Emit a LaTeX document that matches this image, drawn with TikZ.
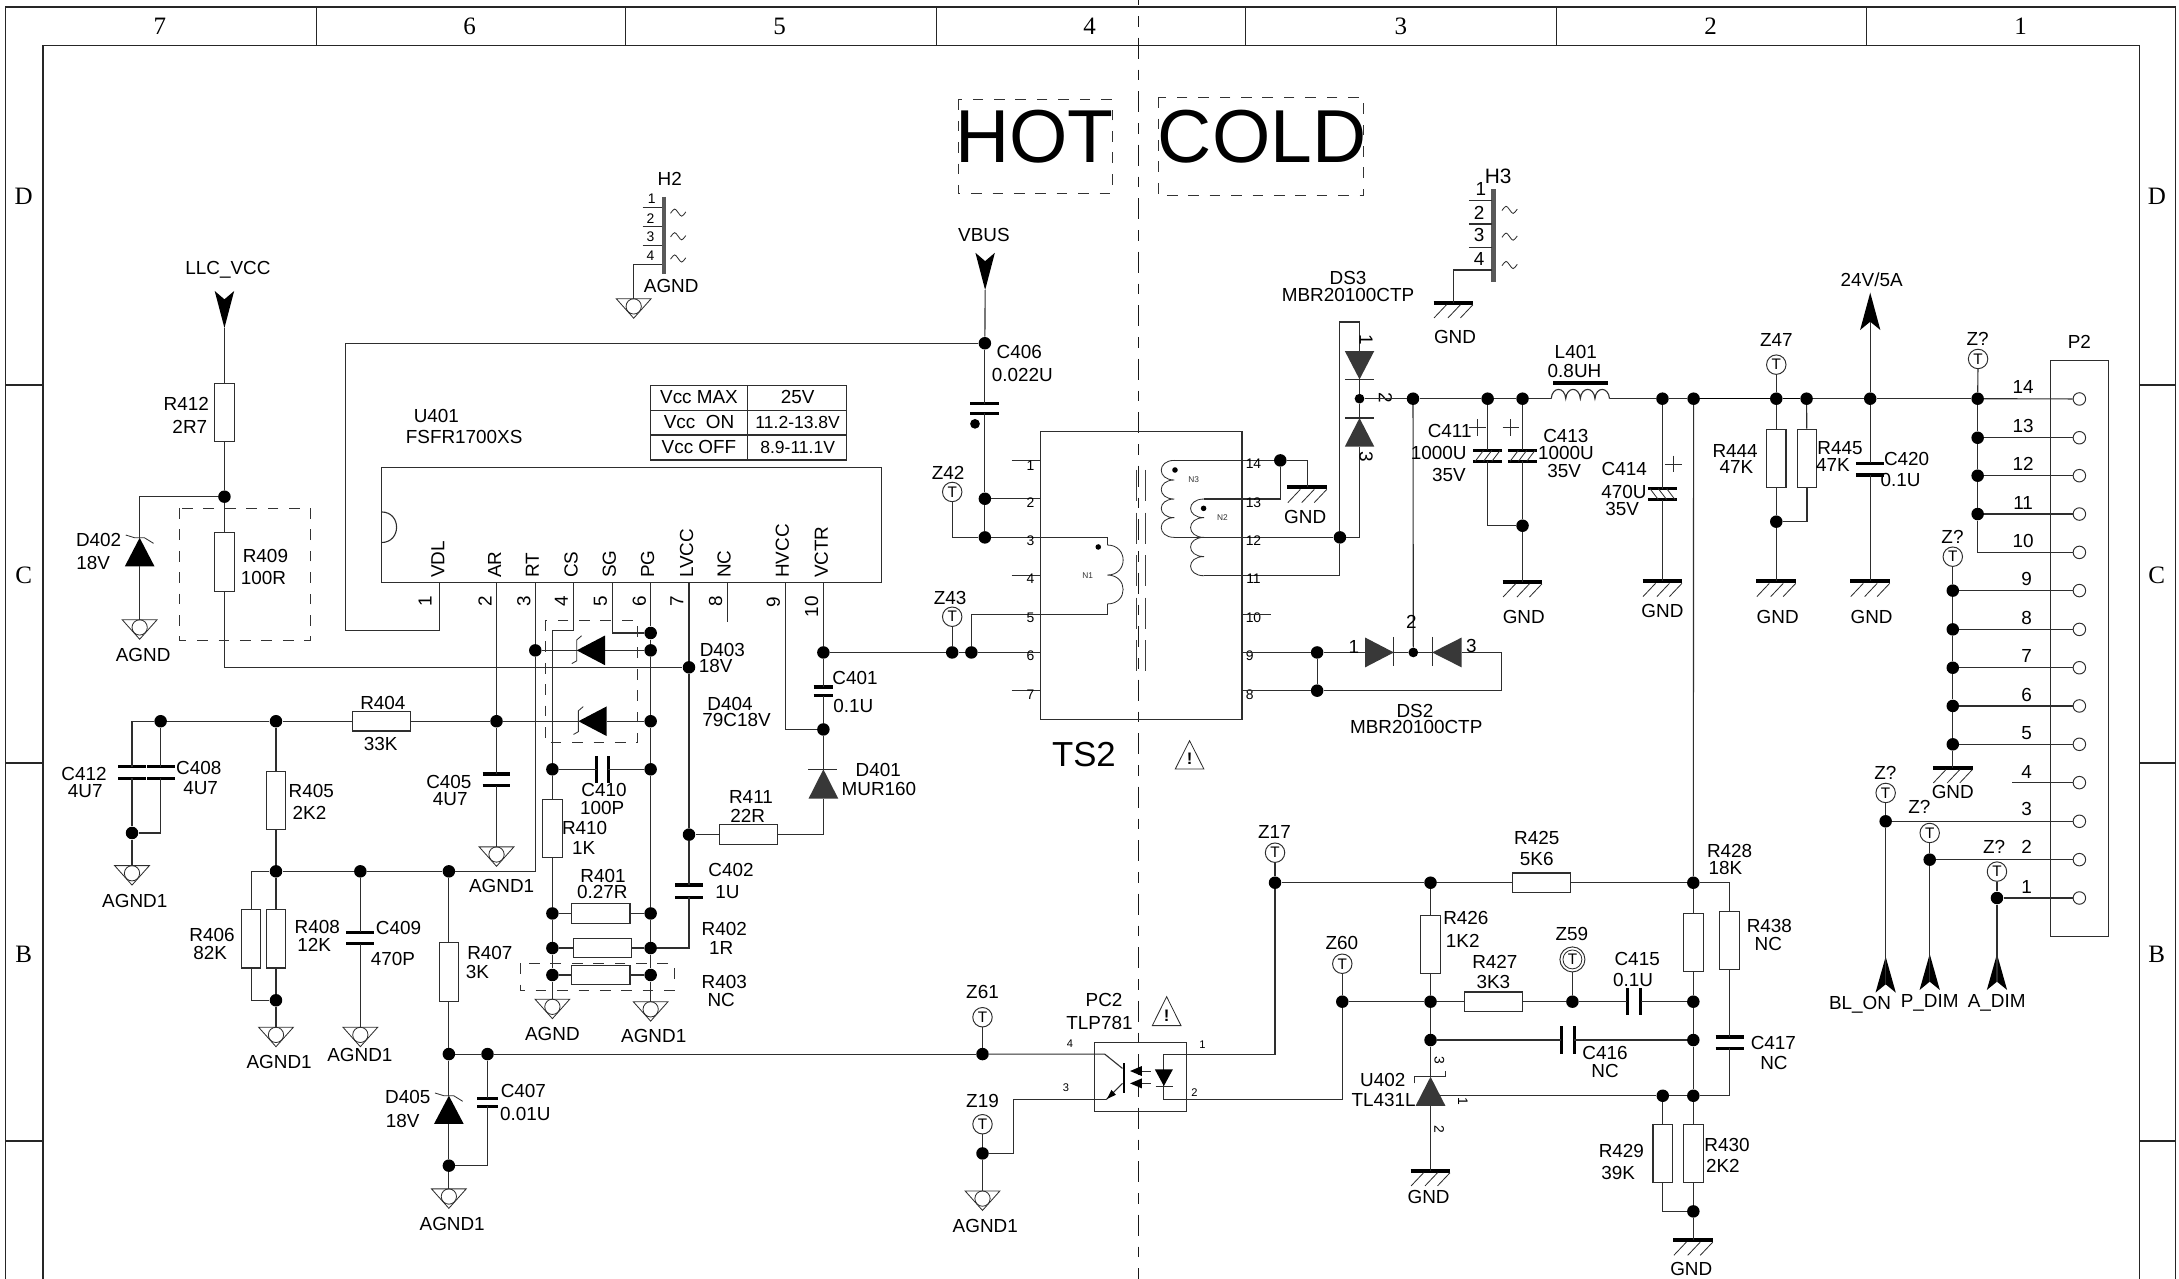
\documentclass[tikz,border=0pt]{standalone}
\usepackage{fontspec}
\setmainfont{Liberation Sans}
\newfontfamily\gridfont{Liberation Serif}
\colorlet{wirec}{black!82}
\colorlet{diodec}{black!78}
\tikzset{
  wire/.style={line width=.8pt,draw=wirec},
  thinw/.style={line width=.6pt,draw=wirec},
  frameline/.style={line width=.9pt,draw=black!85},
  dashbox/.style={line width=.7pt,draw=black!80,dash pattern=on 7.7pt off 7.7pt},
  coreline/.style={line width=.7pt,draw=black!75,dash pattern=on 22.3pt off 8.3pt},
  jdot/.style={circle,fill=black,draw=none,minimum size=9pt,inner sep=0pt},
  sdot/.style={circle,fill=black,draw=none,minimum size=7pt,inner sep=0pt},
  resv/.style={rectangle,draw=wirec,line width=.8pt,minimum width=14pt,minimum height=42pt,inner sep=0pt},
  resh/.style={rectangle,draw=wirec,line width=.8pt,minimum width=42pt,minimum height=14pt,inner sep=0pt},
  tpt/.style={circle,draw=wirec,line width=.7pt,minimum size=14pt,inner sep=0pt,font=\fontsize{11}{11}\selectfont},
  pinc/.style={circle,draw=wirec,line width=.7pt,fill=white,minimum size=9pt,inner sep=0pt},
  plate/.style={line width=2.4pt,draw=black},
  lbl/.style={font=\fontsize{13.6}{14}\selectfont,inner sep=0pt,text=black},
  smalll/.style={font=\fontsize{10}{10}\selectfont,inner sep=0pt,text=black},
  tinyl/.style={font=\fontsize{6}{6}\selectfont,inner sep=0pt,text=black!80},
  gridl/.style={font=\gridfont\fontsize{18}{18}\selectfont,inner sep=0pt,text=black},
}
\newcount\lblc
\newcommand\lb[3]{\global\advance\lblc by 1 \node[lbl] (t\the\lblc) at (#1,#2) {#3};}
\newcommand\lbs[3]{\global\advance\lblc by 1 \node[smalll] (t\the\lblc) at (#1,#2) {#3};}
\newcommand\lbt[3]{\global\advance\lblc by 1 \node[tinyl] (t\the\lblc) at (#1,#2) {#3};}
\newcommand\lbg[3]{\global\advance\lblc by 1 \node[gridl] (t\the\lblc) at (#1,#2) {#3};}
\newcommand\lbr[3]{\global\advance\lblc by 1 \node[lbl,rotate=90] (t\the\lblc) at (#1,#2) {#3};}
\newcommand\lbcw[3]{\global\advance\lblc by 1 \node[lbl,rotate=-90] (t\the\lblc) at (#1,#2) {#3};}
\newcommand\lbscw[3]{\global\advance\lblc by 1 \node[smalll,rotate=-90] (t\the\lblc) at (#1,#2) {#3};}
\newcommand\pinlab[2]{\global\advance\lblc by 1 \node[lbl,rotate=90,anchor=west] (t\the\lblc) at (#1,416) {#2};}
\newcommand\jn[3]{\node[jdot] (#1) at (#2,#3) {};}
\newcommand\sj[3]{\node[sdot] (#1) at (#2,#3) {};}
\newcommand\resV[3]{\node[resv] (#1) at (#2,#3) {};}
\newcommand\resH[3]{\node[resh] (#1) at (#2,#3) {};}
\newcommand\tp[3]{\node[tpt] (#1) at (#2,#3) {T};}
\newcommand\agnd[3]{\coordinate (#1) at (#2,#3);
  \draw[thinw] (#2-12.5,#3) -- (#2+12.5,#3) -- (#2,#3+14) -- cycle;
  \draw[thinw] (#2,#3+5.5) circle [radius=5.5pt];}
\newcommand\gnd[3]{\coordinate (#1) at (#2,#3);
  \draw[line width=3pt,draw=black] (#2-14.3,#3) -- (#2+14.3,#3);
  \draw[thinw] (#2-5,#3+1.5) -- (#2-14,#3+11);
  \draw[thinw] (#2+5,#3+1.5) -- (#2-4,#3+11);
  \draw[thinw] (#2+14,#3+1.5) -- (#2+5,#3+11);}
% name x y1 y2 width
\newcommand\capH[5]{\coordinate (#1a) at (#2,#3); \coordinate (#1b) at (#2,#4);
  \draw[plate] (#2-#5/2,#3) -- (#2+#5/2,#3); \draw[plate] (#2-#5/2,#4) -- (#2+#5/2,#4);}
% name x1 x2 y height
\newcommand\capV[5]{\coordinate (#1a) at (#2,#4); \coordinate (#1b) at (#3,#4);
  \draw[plate] (#2,#4-#5/2) -- (#2,#4+#5/2); \draw[plate] (#3,#4-#5/2) -- (#3,#4+#5/2);}
% polarised: name x y1 y2 width sign
\newcommand\capP[6]{\capH{#1}{#2}{#3}{#4}{#5}
  \draw[thinw] (#2-6-#6*3,#4) -- (#2-6+#6*3,#3);
  \draw[thinw] (#2-#6*3,#4) -- (#2+#6*3,#3);
  \draw[thinw] (#2+6-#6*3,#4) -- (#2+6+#6*3,#3);}
\newcommand\plus[2]{\draw[thinw] (#1-6,#2) -- (#1+6,#2); \draw[thinw] (#1,#2-6) -- (#1,#2+6);}
% diodes: name x ytip ybase colour ; a = tip end, b = base end
\newcommand\diodeV[5]{\coordinate (#1a) at (#2,#3); \coordinate (#1b) at (#2,#4);
  \fill[#5] (#2,#3) -- (#2-10.7,#4) -- (#2+10.7,#4) -- cycle;}
% name xtip xbase y colour
\newcommand\diodeH[5]{\coordinate (#1a) at (#2,#4); \coordinate (#1b) at (#3,#4);
  \fill[#5] (#2,#4) -- (#3,#4-10.7) -- (#3,#4+10.7) -- cycle;}
\newcommand\zenU[2]{\draw[thinw] (#1-10,#2-2) -- (#1-3.5,#2) -- (#1+3.5,#2) -- (#1+10,#2+4);}
\newcommand\zenL[2]{\draw[thinw] (#1+3.5,#2-10.5) -- (#1,#2-7.5) -- (#1,#2+7.5) -- (#1-3.5,#2+9.5);}
\newcommand\arrD[4]{\coordinate (#1) at (#2,#4);
  \fill[black] (#2-7,#3) -- (#2,#3+6) -- (#2+7,#3) -- (#2,#4) -- cycle;}
\newcommand\arrU[4]{\coordinate (#1) at (#2,#4-6);
  \fill[black] (#2-7.3,#4) -- (#2,#4-6) -- (#2+7.3,#4) -- (#2,#3) -- cycle;}
\newcommand\warn[3]{\draw[thinw] (#1,#2) -- (#1-10.3,#3) -- (#1+10.3,#3) -- cycle;
  \global\advance\lblc by 1
  \node[inner sep=0pt,font=\bfseries\fontsize{12}{12}\selectfont] (t\the\lblc) at (#1,#2/2+#3/2+3) {!};}
\newcommand\tld[2]{\draw[thinw] (#1-5.5,#2+.5) .. controls (#1-2.5,#2-3.5) .. (#1,#2) .. controls (#1+2.5,#2+3.5) .. (#1+5.5,#2-.5);}
\begin{document}
\begin{tikzpicture}[x=1pt,y=-1pt,line cap=butt]
\useasboundingbox (0,0) rectangle (1568,920);
% ---------- sheet frame ----------
\draw[frameline] (4,920) -- (4,5) -- (1565.6,5) -- (1565.6,920);
\draw[frameline] (31,920) -- (31,33) -- (1539.3,33) -- (1539.3,920);
\foreach \xx in {228,450,674,896,1120,1343} \draw[frameline] (\xx,5) -- (\xx,33);
\foreach \yy in {277,549,821} {\draw[frameline] (4,\yy) -- (31,\yy); \draw[frameline] (1539.3,\yy) -- (1565.6,\yy);}
\lbg{115}{19}{7}\lbg{338}{19}{6}\lbg{561}{19}{5}\lbg{784}{19}{4}\lbg{1008}{19}{3}\lbg{1231}{19}{2}\lbg{1454}{19}{1}
\lbg{17}{141.5}{D}\lbg{17}{414}{C}\lbg{17}{687}{B}
\lbg{1552}{141.5}{D}\lbg{1552}{414}{C}\lbg{1552}{687}{B}
% ---------- hot/cold divider ----------
\draw[line width=.8pt,draw=black!90,dash pattern=on 15.4pt off 7.7pt on 7.7pt off 7.7pt,dash phase=11.5pt] (819.1,0) -- (819.1,920);
\draw[dashbox] (689.5,71.5) rectangle (800.2,139.2);
\draw[dashbox] (833.3,70) rectangle (981.2,140.6);
\node[inner sep=0pt,font=\fontsize{54}{54}\selectfont] (hot) at (744.5,98) {HOT};
\node[inner sep=0pt,font=\fontsize{54}{54}\selectfont] (cold) at (908.2,98) {COLD};
% ---------- all junctions ----------
\jn{jA}{161.5}{357.4}
\jn{j115}{115.6}{519}\jn{j198}{198.6}{519}\jn{j357}{357.3}{519}
\jn{j95}{95}{599.4}
\jn{k198}{198.6}{627}\jn{k259}{259.3}{627}\jn{k323}{323}{627}
\jn{m198}{198.6}{719.8}
\jn{n323}{323}{758.5}\jn{n351}{350.8}{758.5}\jn{n323b}{323}{838.8}
\jn{p3d}{385.2}{468}\jn{p6a}{468.2}{455.5}\jn{p6b}{468.2}{468}\jn{p6c}{468.2}{519}\jn{p6d}{468.2}{553.6}
\jn{p6e}{468.2}{657.3}\jn{p6f}{468.2}{682.2}\jn{p6g}{468.2}{701.6}
\jn{p4d}{397.5}{553.6}\jn{p4e}{397.5}{657.3}\jn{p4f}{397.5}{682.2}\jn{p4g}{397.5}{701.6}
\jn{p7a}{495.8}{480.2}\jn{p7b}{495.8}{600.6}
\jn{p10a}{592.5}{469.5}\jn{p10b}{592.5}{524.9}
\jn{z43d}{685.2}{469.5}\jn{s5d}{699}{469.5}
\jn{vb1}{708.7}{247}\jn{vb2}{708.7}{358.9}\jn{vb3}{708.7}{386.7}
\jn{g14}{921.3}{331.3}\jn{n12}{964.2}{386.7}
\jn{d9}{947.8}{469.5}\jn{d8}{947.8}{497}
\sj{ds3c}{978.3}{286.9}\sj{ds2c}{1017}{469.5}
\jn{o1}{1016.8}{286.9}\jn{o2}{1070.5}{286.9}\jn{o3}{1095.6}{286.9}\jn{o4}{1196.3}{286.9}\jn{o5}{1218.7}{286.9}
\jn{o6}{1278.2}{286.9}\jn{o7}{1300}{286.9}\jn{o8}{1345.8}{286.9}\jn{o9}{1423.1}{286.9}
\jn{c413d}{1095.6}{378.3}\jn{r44b}{1278.2}{375.4}
\jn{f13}{1423.1}{315}\jn{f12}{1423.1}{342.3}\jn{f11}{1423.1}{369.9}
\jn{f9}{1405.2}{425}\jn{f8}{1405.2}{452.9}\jn{f7}{1405.2}{480.5}\jn{f6}{1405.2}{508}\jn{f5}{1405.2}{535.6}
\jn{f3}{1356.9}{591}\jn{f2}{1388.6}{618.6}\jn{f1}{1437}{646.2}
\jn{z17d}{917.5}{635.2}\jn{q1}{1029.4}{635.2}\jn{q2}{1218.5}{635.2}
\jn{z60d}{965.9}{720.8}\jn{q3}{1029.4}{720.8}\jn{z59d}{1131.5}{720.8}\jn{q4}{1218.5}{720.8}
\jn{q5}{1029.4}{748.4}\jn{q6}{1218.5}{748.4}
\jn{q7}{1196.5}{788.5}\jn{q8}{1218.5}{788.5}\jn{q9}{1218.5}{871.7}
\jn{z61d}{707}{758.5}\jn{z19d}{707}{830}
% ---------- resistors ----------
\resV{R412}{161.5}{297}\resV{R409}{161.5}{404.5}
\resH{R404}{274.6}{519}
\resV{R405}{198.6}{576}\resV{R406}{180.7}{675.6}\resV{R408}{198.6}{675.6}\resV{R407}{323}{699.4}
\resV{R410}{397.5}{596.3}
\resH{R401}{432.3}{657.3}\resH{R402}{433.7}{682.2}\resH{R403}{432.3}{701.6}
\resH{R411}{538.5}{600.6}
\resV{R444}{1278.2}{329.8}\resV{R445}{1300.3}{329.8}
\resH{R425}{1109.2}{635.2}\resV{R426}{1029.4}{679.7}\resH{R427}{1074.8}{720.8}
\resV{R428}{1218.5}{678.2}\resV{R438}{1244.6}{676.8}
\resV{R429}{1196.5}{830}\resV{R430}{1218.5}{830}
% ---------- test points ----------
\tp{Z42}{685.2}{354}\tp{Z43}{685.2}{443.8}\tp{Z47}{1278.2}{262.4}\tp{Zq1}{1423.4}{258.3}\tp{Zq2}{1405.2}{400.6}
\tp{Zq3}{1356.9}{570.6}\tp{Zq4}{1388.6}{599.4}\tp{Zq5}{1437}{627.2}
\tp{Z17}{917.5}{613.6}\tp{Z60}{965.9}{693.5}\tp{Z61}{707}{732}\tp{Z19}{707}{809}
\node[circle,draw=wirec,line width=.7pt,minimum size=18pt,inner sep=0pt,font=\fontsize{11}{11}\selectfont] (Z59) at (1131.5,690.4) {T};
\draw[thinw] (Z59.center) circle [radius=6.8pt];
% ---------- power rails / ports ----------
\arrD{vcc}{161.5}{209.4}{236}
\arrD{vbus}{708.9}{181.9}{208.7}
\arrU{v24}{1345.8}{210.6}{237.5}
\arrU{blon}{1356.9}{688.4}{714.3}
\arrU{pdim}{1388.6}{686.5}{712.4}
\arrU{adim}{1437}{686.5}{712.4}
\lb{164}{194}{LLC\_VCC}\lb{708}{169}{VBUS}\lb{1346.8}{201.5}{24V/5A}
\lb{1338.5}{723}{BL\_ON}\lb{1388.6}{722}{P\_DIM}\lb{1436.8}{722}{A\_DIM}
% ---------- D402 ----------
\diodeV{dA}{100.5}{387}{407.6}{black}\zenU{100.5}{387}
\agnd{gA}{100.5}{446}
\draw[wire] (jA) -| (dAa);
\draw[wire] (dAb) -- (gA);
\draw[wire] (vcc) -- (R412);\draw[wire] (R412) -- (jA);\draw[wire] (jA) -- (R409);
\draw[wire] (R409) |- (p7a);
\draw[dashbox] (129.5,365.6) rectangle (223.5,461);
\lb{134}{291}{R412}\lb{136.6}{307}{2R7}\lb{191}{400}{R409}\lb{189.5}{416}{100R}\lb{71}{388.5}{D402}\lb{67}{405}{18V}\lb{103}{471.4}{AGND}
% ---------- H2 ----------
\draw[line width=3pt,draw=black!65] (477.7,141.6) -- (477.7,197.4);
\foreach \yy in {149,162.7,176.8} \draw[wire] (462.5,\yy) -- (476.5,\yy);
\agnd{gHtwo}{456}{215}
\coordinate (h2p) at (476.5,190.3);
\draw[wire] (h2p) -| (gHtwo);
\lb{482}{128.5}{H2}\lb{483}{206}{AGND}
\lbs{469}{143}{1}\lbs{468}{157}{2}\lbs{468}{170}{3}\lbs{468}{184}{4}
\tld{488}{153}\tld{488}{170}\tld{488}{186}
% ---------- H3 ----------
\draw[line width=3pt,draw=black!65] (1074.7,136.3) -- (1074.7,202.7);
\foreach \yy in {144.4,161.2,178.3} \draw[wire] (1057,\yy) -- (1073.5,\yy);
\gnd{gHthree}{1045.9}{217.8}
\coordinate (h3p) at (1073.5,194.3);
\draw[wire] (h3p) -| (gHthree);
\node[lbl,font=\fontsize{15}{15}\selectfont] (hthree) at (1078,127.2) {H3};
\lb{1047}{242.8}{GND}
\lb{1065.7}{136.3}{1}\lb{1064.4}{153.5}{2}\lb{1064.4}{169.4}{3}\lb{1064.4}{186.4}{4}
\tld{1086.3}{151}\tld{1086.3}{170.3}\tld{1086.3}{190.7}
% ---------- U401 ----------
\node[draw=wirec,line width=.8pt,minimum width=359.5pt,minimum height=82.8pt,inner sep=0pt] (U401) at (454.25,378) {};
\draw[wire] (274.5,368.4) .. controls (289,368.4) and (289,390.4) .. (274.5,390.4);
\lb{314}{299.5}{U401}\lb{334}{314.5}{FSFR1700XS}
\pinlab{315}{VDL}\pinlab{356}{AR}\pinlab{383}{RT}\pinlab{411}{CS}\pinlab{438.5}{SG}\pinlab{466}{PG}\pinlab{494}{LVCC}\pinlab{521}{NC}\pinlab{563}{HVCC}\pinlab{591}{VCTR}
\lbr{306}{433}{1}\lbr{349}{433}{2}\lbr{377}{433}{3}\lbr{404}{433}{4}\lbr{432}{433}{5}\lbr{460}{433}{6}\lbr{487}{433}{7}\lbr{515}{433}{8}\lbr{556.5}{433.7}{9}\lbr{584}{436.6}{10}
\coordinate (u1) at (316,419.4);\coordinate (u2) at (357.3,419.4);\coordinate (u3) at (385.2,419.4);\coordinate (u4) at (413,419.4);
\coordinate (u5) at (440.6,419.4);\coordinate (u6) at (468.2,419.4);\coordinate (u7) at (495.8,419.4);\coordinate (u8) at (523.4,419.4);
\coordinate (u9) at (565,419.4);\coordinate (u10) at (592.5,419.4);
\coordinate (u8e) at (523.4,447.4);
\coordinate (fbA) at (248.5,247);\coordinate (fbB) at (248.5,454);
\draw[wire] (vb1) -- (fbA) -- (fbB) -| (u1);
\draw[wire] (u8) -- (u8e);
% pin 2 net
\capH{c405}{357.3}{557}{565.3}{20}
\agnd{g405}{357.3}{609.4}
\draw[wire] (u2) -- (j357);\draw[wire] (j357) -- (c405a);\draw[wire] (c405b) -- (g405);
\draw[wire] (j115) -- (j198);\draw[wire] (j198) -- (R404);\draw[wire] (R404) -- (j357);
\lb{275.5}{506}{R404}\lb{274}{535.5}{33K}\lb{323}{562.4}{C405}\lb{324}{574.7}{4U7}\lb{361}{637.6}{AGND1}
% C412 / C408
\capH{c412}{95}{551.8}{560}{20}\capH{c408}{115.6}{551.8}{560}{20}
\agnd{g412}{95}{622.9}
\coordinate (c412t) at (95,519);\coordinate (c408k) at (115.6,599.4);
\draw[wire] (j115) -- (c412t) -- (c412a);\draw[wire] (c412b) -- (j95);\draw[wire] (j95) -- (g412);
\draw[wire] (j115) -- (c408a);\draw[wire] (c408b) -- (c408k) -- (j95);
\lb{60.5}{556.8}{C412}\lb{61.4}{569}{4U7}\lb{143}{552.4}{C408}\lb{144.4}{566.8}{4U7}\lb{97}{648.5}{AGND1}
% R405 - R408
\agnd{g406}{198.6}{739.2}
\coordinate (r406t) at (180.7,627);\coordinate (r406b) at (180.7,719.8);
\draw[wire] (j198) -- (R405);\draw[wire] (R405) -- (k198);\draw[wire] (k198) -- (R408);\draw[wire] (R408) -- (m198);\draw[wire] (m198) -- (g406);
\draw[wire] (k198) -- (r406t) -- (R406);\draw[wire] (R406) -- (r406b) -- (m198);
\lb{224}{569.2}{R405}\lb{222.7}{585}{2K2}\lb{152.6}{673}{R406}\lb{151.3}{685.8}{82K}\lb{228.3}{666.7}{R408}\lb{226}{679.6}{12K}\lb{200.9}{764.5}{AGND1}
% C409
\capH{c409}{259.3}{670.8}{679}{20}\agnd{g409}{259.3}{739.2}
\draw[wire] (k198) -- (k259);\draw[wire] (k259) -- (k323);
\draw[wire] (k259) -- (c409a);\draw[wire] (c409b) -- (g409);
\lb{286.8}{667.8}{C409}\lb{282.8}{690.2}{470P}\lb{259}{759.5}{AGND1}
% R407 D405 C407
\diodeV{d405}{323}{788.5}{808.8}{black}\zenU{323}{788.5}
\capH{c407}{350.8}{790.3}{796.2}{14.5}\agnd{g405b}{323}{855.5}
\coordinate (c407k) at (350.8,838.8);
\coordinate (p3k) at (385.2,627);
\draw[wire] (k323) -- (R407);\draw[wire] (R407) -- (n323);\draw[wire] (n323) -- (d405a);\draw[wire] (d405b) -- (n323b);\draw[wire] (n323b) -- (g405b);
\draw[wire] (n323) -- (n351);\draw[wire] (n351) -- (c407a);\draw[wire] (c407b) -- (c407k) -- (n323b);
\draw[wire] (u3) -- (p3d);\draw[wire] (p3d) -- (p3k) -- (k323);
\lb{352.5}{685.8}{R407}\lb{343.6}{699.6}{3K}\lb{293.4}{789.7}{D405}\lb{289.7}{807}{18V}\lb{376.6}{785.3}{C407}\lb{378}{801.8}{0.01U}\lb{325.4}{881}{AGND1}
% pin 4,5,6,7
\coordinate (p4a) at (413,454);\coordinate (p4b) at (397.5,454);\coordinate (p5a) at (440.6,455.5);
\agnd{gfour}{397.5}{719}\agnd{gsix}{468.2}{720.8}
\draw[wire] (u4) -- (p4a) -- (p4b) -- (p4d);\draw[wire] (p4d) -- (R410);\draw[wire] (R410) -- (p4e);\draw[wire] (p4e) -- (p4f);\draw[wire] (p4f) -- (p4g);\draw[wire] (p4g) -- (gfour);
\draw[wire] (u5) -- (p5a) -- (p6a);
\draw[wire] (u6) -- (p6a);\draw[wire] (p6a) -- (p6b);\draw[wire] (p6b) -- (p6c);\draw[wire] (p6c) -- (p6d);\draw[wire] (p6d) -- (p6e);\draw[wire] (p6e) -- (p6f);\draw[wire] (p6f) -- (p6g);\draw[wire] (p6g) -- (gsix);
\capH{c402}{495.8}{636.9}{645.7}{20}
\coordinate (p7k) at (495.8,682.2);
\draw[wire] (u7) -- (p7a);\draw[wire] (p7a) -- (p7b);\draw[wire] (p7b) -- (c402a);\draw[wire] (c402b) -- (p7k) -- (p6f);
% D403 D404
\diodeH{d403}{415}{435.4}{468}{black}\zenL{415}{468}
\diodeH{d404}{416.2}{436.6}{519}{black}\zenL{416.2}{519}
\draw[wire] (p3d) -- (d403a);\draw[wire] (d403b) -- (p6b);
\draw[wire] (j357) -- (d404a);\draw[wire] (d404b) -- (p6c);
\draw[dashbox] (392.2,446.2) rectangle (458.6,534.5);
% C410, R401-403
\capV{c410}{429.4}{437.7}{553.6}{19}
\draw[wire] (p4d) -- (c410a);\draw[wire] (c410b) -- (p6d);
\draw[wire] (p4e) -- (R401);\draw[wire] (R401) -- (p6e);
\draw[wire] (p4f) -- (R402);\draw[wire] (R402) -- (p6f);
\draw[wire] (p4g) -- (R403);\draw[wire] (R403) -- (p6g);
\draw[dashbox] (374.2,693.2) rectangle (485,712.7);
\lb{519.8}{468}{D403}\lb{515}{479.2}{18V}\lb{525.3}{506.5}{D404}\lb{530}{518}{79C18V}
\lb{434.6}{568.7}{C410}\lb{433.4}{581.7}{100P}\lb{420.7}{595.6}{R410}\lb{420}{610.5}{1K}\lb{433.9}{630}{R401}\lb{433.4}{642}{0.27R}
\lb{521.2}{668.8}{R402}\lb{519}{682.4}{1R}\lb{521.2}{706.4}{R403}\lb{519}{719.9}{NC}\lb{397.5}{744.3}{AGND}\lb{470.4}{745.8}{AGND1}
\lb{526}{625.8}{C402}\lb{523.4}{642}{1U}
% pin 9, 10, D401
\coordinate (p9k) at (565,524.9);
\draw[wire] (u9) -- (p9k) -- (p10b);
\capH{c401}{592.5}{494.4}{500.6}{14}
\diodeV{d401}{592.5}{553.6}{574.7}{diodec}
\draw[wire] (581.7,553.6) -- (602.3,553.6);
\coordinate (d401k) at (592.5,600.6);
\draw[wire] (u10) -- (p10a);\draw[wire] (p10a) -- (c401a);\draw[wire] (c401b) -- (p10b);\draw[wire] (p10b) -- (d401a);
\draw[wire] (d401b) -- (d401k) -- (R411);\draw[wire] (R411) -- (p7b);
\lb{632}{554}{D401}\lb{632.5}{567.5}{MUR160}\lb{540.4}{573.5}{R411}\lb{538}{587}{22R}\lb{615.3}{487.7}{C401}\lb{614}{508.3}{0.1U}
% table
\draw[wire] (468,277.2) rectangle (609,331);
\draw[wire] (468,295.1) -- (609,295.1);\draw[wire] (468,313) -- (609,313);\draw[wire] (538,277.2) -- (538,331);
\lb{503}{286}{Vcc MAX}\lb{574}{286}{25V}\lb{503}{304}{Vcc\ \ ON}\lb{503}{322}{Vcc OFF}
\node[lbl,font=\fontsize{12.6}{12}\selectfont] (tbA) at (574,304) {11.2-13.8V};
\node[lbl,font=\fontsize{12.6}{12}\selectfont] (tbB) at (574,322) {8.9-11.1V};
% ---------- VBUS / C406 ----------
\capH{c406}{708.7}{290.5}{297.5}{21}
\node[circle,fill=black,minimum size=7pt,inner sep=0pt] (c406p) at (701.6,305) {};
\draw[wire] (vbus) -- (vb1);\draw[wire] (vb1) -- (c406a);\draw[wire] (c406b) -- (vb2);\draw[wire] (vb2) -- (vb3);
\lb{733.4}{253.3}{C406}\lb{735.7}{269.9}{0.022U}
\lb{682.3}{340.4}{Z42}\lb{683.7}{430.3}{Z43}
% ---------- TS2 ----------
\node[draw=wirec,line width=.8pt,minimum width=145.1pt,minimum height=207.2pt,inner sep=0pt] (TS2) at (821.15,414) {};
\node[inner sep=0pt,font=\fontsize{25}{25}\selectfont] (tstwo) at (780,543.3) {TS2};
\warn{856}{533}{553.4}
\foreach \yy in {331.3,414.3,497} \draw[wire] (728,\yy) -- (748.6,\yy);
\coordinate (tsB) at (748.6,358.9);\coordinate (tsC) at (796.8,386.7);\coordinate (tsE) at (796.8,441.9);\coordinate (tsF) at (748.6,469.5);
\coordinate (tsEk) at (699,441.9);\coordinate (zfk) at (685.2,386.7);
\coordinate (nOa) at (796.8,392.2);\coordinate (nOb) at (796.8,434.6);
\draw[wire] (vb2) -- (tsB);
\draw[wire] (Z42) -- (zfk) -- (vb3);
\draw[wire] (vb3) -- (tsC) -- (nOa);
\draw[thinw] (nOa) .. controls (812,392.2) and (812,413.8) .. (796.8,413.8) .. controls (812,413.8) and (812,434.6) .. (nOb);
\draw[wire] (nOb) -- (tsE) -- (tsEk) -- (s5d);
\draw[wire] (p10a) -- (z43d);\draw[wire] (z43d) -- (s5d);\draw[wire] (s5d) -- (tsF);
\draw[wire] (Z43) -- (z43d);
\fill (790.3,393.6) circle [radius=2pt];
\lbt{782.7}{414}{N1}
\foreach \yy/\nn in {335/1,361.5/2,389/3,416.7/4,444.5/5,472/6,499.7/7} {\global\advance\lblc by 1 \node[smalll] (t\the\lblc) at (741.6,\yy) {\nn};}
% core
\draw[coreline] (818,338.2) -- (818,484);
\draw[coreline] (824.6,338.2) -- (824.6,484);
% secondary
\coordinate (n3t) at (845,331.3);\coordinate (n3b) at (845,386.7);\coordinate (n2t) at (866.4,359.1);\coordinate (n2b) at (866.4,414.3);
\coordinate (n2k) at (921.3,359.1);\coordinate (nek) at (964.2,414.3);\coordinate (gk) at (940.7,331.3);
\gnd{gT}{940.7}{350.7}
\draw[thinw] (n3t) .. controls (832.5,331.3) and (832.5,345.4) .. (845,345.4) .. controls (832.5,345.4) and (832.5,359.1) .. (845,359.1) .. controls (832.5,359.1) and (832.5,372.5) .. (845,372.5) .. controls (832.5,372.5) and (832.5,386.7) .. (n3b);
\draw[thinw] (n2t) .. controls (853.5,359.1) and (853.5,372.5) .. (866.4,372.5) .. controls (853.5,372.5) and (853.5,386.7) .. (866.4,386.7) .. controls (853.5,386.7) and (853.5,400.5) .. (866.4,400.5) .. controls (853.5,400.5) and (853.5,414.3) .. (n2b);
\draw[wire] (n3t) -- (g14);\draw[wire] (g14) -- (gk) -- (gT);
\draw[wire] (n2t) -- (n2k) -- (g14);
\draw[wire] (n3b) -- (n12);\draw[wire] (n2b) -- (nek) -- (n12);
\fill (845.5,338.2) circle [radius=2pt];\fill (866.1,365.8) circle [radius=2pt];
\lbt{859}{345}{N3}\lbt{879.6}{372.3}{N2}
\lb{939.2}{371.8}{GND}
\lbs{902}{333.7}{14}\lbs{902}{361.5}{13}\lbs{902}{389}{12}\lbs{902}{416.4}{11}\lbs{902}{444.3}{10}\lbs{899.3}{471.9}{9}\lbs{899.3}{499.7}{8}
\draw[wire] (893.7,441.9) -- (914.3,441.9);
\coordinate (tsI) at (893.7,469.5);\coordinate (tsH) at (893.7,497);
\draw[wire] (tsI) -- (d9);\draw[wire] (tsH) -- (d8);\draw[wire] (d9) -- (d8);
% DS2
\diodeH{dsa}{1003}{982.4}{469.5}{diodec}
\diodeH{dsb}{1030.6}{1051.7}{469.5}{diodec}
\draw[wire] (1003,458.2) -- (1003,479);\draw[wire] (1030.6,458.2) -- (1030.6,479);
\coordinate (dskA) at (1080.2,469.5);\coordinate (dskB) at (1080.2,497);
\draw[wire] (d9) -- (dsab);\draw[wire] (dsaa) -- (ds2c);\draw[wire] (ds2c) -- (dsba);\draw[wire] (dsbb) -- (dskA) -- (dskB) -- (d8);
\draw[wire] (ds2c) -- (o1);
\lb{974.2}{465.4}{1}\lb{1015.6}{447.4}{2}\lb{1058.8}{464.9}{3}\lb{1018.2}{511.4}{DS2}\lb{1019.1}{522.9}{MBR20100CTP}
% DS3
\coordinate (dtA) at (964.2,231.7);\coordinate (dtB) at (978.3,231.7);\coordinate (dtE) at (978.3,386.7);
\fill[diodec] (978.3,273) -- (967.7,252.6) -- (988.9,252.6) -- cycle;
\fill[diodec] (978.3,300.8) -- (967.7,321.4) -- (988.9,321.4) -- cycle;
\coordinate (dpa) at (978.3,252.6);\coordinate (dpb) at (978.3,273);\coordinate (dpc) at (978.3,300.8);\coordinate (dpd) at (978.3,321.4);
\draw[wire] (968,273) -- (989,273);\draw[wire] (968,300.8) -- (989,300.8);
\draw[wire] (n12) -- (dtA) -- (dtB) -- (dpa);\draw[wire] (dpb) -- (ds3c);\draw[wire] (ds3c) -- (dpc);\draw[wire] (dpd) -- (dtE) -- (n12);
\lbcw{983}{244.2}{1}\lbcw{997}{286}{2}\lbcw{983}{329}{3}\lb{970}{200}{DS3}\lb{970}{212}{MBR20100CTP}
% output rail
\coordinate (Lin) at (1116.2,286.9);\coordinate (Lout) at (1158.2,286.9);
\draw[wire] (Lin) .. controls (1117,278) and (1126,278) .. (1126.7,286.9) .. controls (1127.4,278) and (1136.5,278) .. (1137.2,286.9) .. controls (1138,278) and (1147,278) .. (1147.7,286.9) .. controls (1148.4,278) and (1157.4,278) .. (Lout);
\draw[line width=3.2pt,draw=black] (1117.6,275.8) -- (1157,275.8);
\draw[wire] (ds3c) -- (o1);\draw[wire] (o1) -- (o2);\draw[wire] (o2) -- (o3);\draw[wire] (o3) -- (Lin);\draw[wire] (Lout) -- (o4);\draw[wire] (o4) -- (o5);
\draw[line width=1.1pt,draw=black] (o5) -- (o6);\draw[line width=1.1pt,draw=black] (o6) -- (o7);
\draw[wire] (o7) -- (o8);\draw[wire] (o8) -- (o9);
\lb{1133.9}{253.3}{L401}\lb{1133}{266.7}{0.8UH}
% C411 C413 C414
\capP{c411}{1070.5}{324.1}{332}{21}{1}\capP{c413}{1095.6}{324.1}{332}{21}{1}\capP{c414}{1196.3}{351.6}{359.5}{21}{-1}
\plus{1063}{307.8}\plus{1087.2}{307.8}\plus{1204}{333.9}
\gnd{gOne}{1095.6}{418.6}\gnd{gTwo}{1196.3}{418.3}
\coordinate (c411k) at (1070.5,378.3);
\draw[wire] (o2) -- (c411a);\draw[wire] (c411b) -- (c411k) -- (c413d);
\draw[wire] (o3) -- (c413a);\draw[wire] (c413b) -- (c413d);\draw[wire] (c413d) -- (gOne);
\draw[wire] (o4) -- (c414a);\draw[wire] (c414b) -- (gTwo);
\lb{1043.2}{310.2}{C411}\lb{1035.3}{326.2}{1000U}\lb{1042.6}{341.8}{35V}
\lb{1126.8}{313.7}{C413}\lb{1126.8}{325.7}{1000U}\lb{1125.5}{339}{35V}
\lb{1168.8}{337.5}{C414}\lb{1168.5}{354.3}{470U}\lb{1167.3}{366}{35V}
\lb{1096.5}{443.7}{GND}\lb{1196.3}{439.4}{GND}
% R444 R445 C420
\gnd{gThree}{1278.2}{418.3}\gnd{gFour}{1345.8}{418.3}
\capH{c420}{1345.8}{333.4}{341.8}{20.5}
\draw[wire] (Z47) -- (o6);\draw[wire] (o6) -- (R444);\draw[wire] (R444) -- (r44b);\draw[wire] (r44b) -- (gThree);
\draw[wire] (o7) -- (R445);\draw[wire] (R445) |- (r44b);
\draw[wire] (v24) -- (o8);\draw[wire] (o8) -- (c420a);\draw[wire] (c420b) -- (gFour);
\lb{1278.2}{244.7}{Z47}\lb{1248.6}{324.3}{R444}\lb{1249.5}{336}{47K}\lb{1324}{322.5}{R445}\lb{1319}{334.5}{47K}
\lb{1372}{330.3}{C420}\lb{1367.7}{345.4}{0.1U}\lb{1279.2}{443.7}{GND}\lb{1346.8}{443.7}{GND}
% ---------- P2 ----------
\node[draw=wirec,line width=.8pt,minimum width=41.8pt,minimum height=414.7pt,inner sep=0pt] (Ptwo) at (1496.3,466.65) {};
\lb{1496.3}{245.9}{P2}
\node[pinc] (Pn14) at (1496.3,287.1) {};\node[pinc] (Pn13) at (1496.3,315) {};\node[pinc] (Pn12) at (1496.3,342.3) {};
\node[pinc] (Pn11) at (1496.3,369.9) {};\node[pinc] (Pn10) at (1496.3,397.5) {};\node[pinc] (Pn9) at (1496.3,425) {};
\node[pinc] (Pn8) at (1496.3,452.9) {};\node[pinc] (Pn7) at (1496.3,480.5) {};\node[pinc] (Pn6) at (1496.3,508) {};
\node[pinc] (Pn5) at (1496.3,535.6) {};\node[pinc] (Pn4) at (1496.3,563.2) {};\node[pinc] (Pn3) at (1496.3,591) {};
\node[pinc] (Pn2) at (1496.3,618.6) {};\node[pinc] (Pn1) at (1496.3,646.2) {};
\lb{1455.8}{278.2}{14}\lb{1455.8}{306.3}{13}\lb{1455.8}{333.9}{12}\lb{1455.8}{361.7}{11}\lb{1455.8}{389}{10}
\lb{1458.3}{416.6}{9}\lb{1458.3}{444.5}{8}\lb{1458.3}{471.8}{7}\lb{1458.3}{499.9}{6}\lb{1458.3}{527.2}{5}
\lb{1458.4}{555.3}{4}\lb{1458.4}{582.4}{3}\lb{1458.4}{609.7}{2}\lb{1458.4}{638}{1}
\draw[wire] (Zq1) -- (o9);\draw[wire] (o9) -- (Pn14);\draw[wire] (o9) -- (f13);\draw[wire] (f13) -- (Pn13);\draw[wire] (f13) -- (f12);\draw[wire] (f12) -- (Pn12);\draw[wire] (f12) -- (f11);\draw[wire] (f11) -- (Pn11);\draw[wire] (f11) |- (Pn10);
\gnd{gP}{1405.2}{552.4}
\draw[wire] (Zq2) -- (f9);\draw[wire] (f9) -- (Pn9);\draw[wire] (f9) -- (f8);\draw[wire] (f8) -- (Pn8);\draw[wire] (f8) -- (f7);\draw[wire] (f7) -- (Pn7);\draw[wire] (f7) -- (f6);\draw[wire] (f6) -- (Pn6);\draw[wire] (f6) -- (f5);\draw[wire] (f5) -- (Pn5);\draw[wire] (f5) -- (gP);
\coordinate (pfs) at (1448,563.2);\draw[wire] (pfs) -- (Pn4);
\draw[wire] (Zq3) -- (f3);\draw[wire] (f3) -- (Pn3);\draw[wire] (f3) -- (blon);
\draw[wire] (Zq4) -- (f2);\draw[wire] (f2) -- (Pn2);\draw[wire] (f2) -- (pdim);
\draw[wire] (Zq5) -- (f1);\draw[wire] (f1) -- (Pn1);\draw[wire] (f1) -- (adim);
\lb{1423.1}{244.2}{Z?}\lb{1405}{386.7}{Z?}\lb{1356.7}{556.2}{Z?}\lb{1381.2}{580.5}{Z?}\lb{1434.9}{609.2}{Z?}\lb{1405.2}{569.9}{GND}
% ---------- main output down to feedback ----------
\gnd{gFive}{1218.5}{892.3}
\coordinate (rtt) at (1244.6,635.2);\coordinate (rtb) at (1244.6,788.5);
\capH{c417}{1244.6}{746.2}{754.4}{20}
\capV{c415}{1171.1}{1180.7}{720.8}{19.7}
\capV{c416}{1123.4}{1132.8}{748.4}{19.6}
\draw[wire] (o5) -- (q2);
\draw[wire] (Z17) -- (z17d);\draw[wire] (z17d) -- (q1);\draw[wire] (q1) -- (R425);\draw[wire] (R425) -- (q2);
\draw[wire] (q2) -- (R428);\draw[wire] (R428) -- (q4);\draw[wire] (q4) -- (q6);\draw[wire] (q6) -- (q8);\draw[wire] (q8) -- (R430);\draw[wire] (R430) -- (q9);\draw[wire] (q9) -- (gFive);
\draw[wire] (q2) -- (rtt) -- (R438);\draw[wire] (R438) -- (c417a);\draw[wire] (c417b) -- (rtb) -- (q8);
\draw[wire] (q1) -- (R426);\draw[wire] (R426) -- (q3);\draw[wire] (q3) -- (q5);
\draw[wire] (Z60) -- (z60d);\draw[wire] (z60d) -- (q3);\draw[wire] (q3) -- (R427);\draw[wire] (R427) -- (z59d);\draw[wire] (z59d) -- (Z59);\draw[wire] (z59d) -- (c415a);\draw[wire] (c415b) -- (q4);
\draw[wire] (q5) -- (c416a);\draw[wire] (c416b) -- (q6);
% U402
\diodeV{uf}{1029.4}{774.8}{795.7}{diodec}
\draw[wire] (1017.7,779.5) -- (1017.7,774.8) -- (1040,774.8) -- (1040,770.4);
\gnd{gSix}{1029.4}{842.4}
\coordinate (ufg) at (1036,788.5);
\draw[wire] (q5) -- (ufa);\draw[wire] (ufb) -- (gSix);
\draw[wire] (ufg) -- (q7);\draw[wire] (q7) -- (q8);\draw[wire] (q7) -- (R429);\draw[wire] (R429) |- (q9);
\lb{1105.8}{603.3}{R425}\lb{1105.8}{618.4}{5K6}\lb{1244.6}{612.4}{R428}\lb{1241.6}{624.9}{18K}
\lb{1166.7}{828}{R429}\lb{1164.5}{844.3}{39K}\lb{1242.7}{823.7}{R430}\lb{1239.8}{839}{2K2}
\lb{1273.2}{666}{R438}\lb{1272.5}{679.6}{NC}\lb{1276.1}{750.3}{C417}\lb{1276.5}{765.2}{NC}
\lb{1155}{757.8}{C416}\lb{1155}{770.7}{NC}\lb{1178.1}{689.9}{C415}\lb{1175.2}{705.2}{0.1U}
\lb{1075.7}{692}{R427}\lb{1074.6}{706.9}{3K3}\lb{1054.8}{660.6}{R426}\lb{1052.6}{676.9}{1K2}
\lb{1131.1}{671.9}{Z59}\lb{965.6}{678.6}{Z60}\lb{917.1}{598.7}{Z17}
\lb{995}{777.2}{U402}\lb{995.7}{791.6}{TL431L}\lb{1028}{861}{GND}\lb{1217}{913.4}{GND}
\lbscw{1035.7}{762.8}{3}\lbscw{1052.6}{792.8}{1}\lbscw{1035.7}{812.4}{2}
% ---------- PC2 ----------
\node[draw=wirec,line width=.8pt,minimum width=66.5pt,minimum height=49.7pt,inner sep=0pt] (PC2) at (820.75,774.85) {};
\coordinate (pcD) at (794.9,758.5);\coordinate (pcC) at (796,791.3);\coordinate (pcA) at (837.1,758.5);\coordinate (pcB) at (837.1,791.3);
\coordinate (kA) at (917.5,758.5);\coordinate (kB) at (965.9,791.3);\coordinate (kz) at (729.5,830);
\coordinate (trC) at (807.7,768.8);\coordinate (trE) at (807.7,779.6);
\draw[wire] (n351) -- (z61d);\draw[wire] (z61d) -- (pcD) -- (trC);
\draw[wire] (Z61) -- (z61d);
\draw[wire] (z17d) -- (kA) -- (pcA) -- (pcB) -- (kB) -- (z60d);
\agnd{gZ}{707}{857}
\draw[wire] (Z19) -- (z19d);\draw[wire] (z19d) -- (gZ);
\draw[wire] (z19d) -- (kz) |- (pcC);
\draw[wire] (pcC) -- (trE);
\fill[black] (796.5,790.8) -- (803,787.8) -- (799.8,784.3) -- cycle;
\draw[line width=1pt,draw=black] (808.8,765) -- (808.8,786.7);
\fill[black] (813.2,770.7) -- (821.7,767.1) -- (821.7,774.3) -- cycle;
\fill[black] (813.2,779.6) -- (821.7,776) -- (821.7,783.2) -- cycle;
\draw[thinw] (821.7,770.7) -- (828.6,770.7);\draw[thinw] (821.7,779.6) -- (828.6,779.6);
\fill[black] (837.5,781.5) -- (831,769.5) -- (844,769.5) -- cycle;
\draw[thinw] (831.6,781.5) -- (844,781.5);
\global\advance\lblc by 1 \node[inner sep=0pt,font=\fontsize{8}{8}\selectfont] (t\the\lblc) at (769.9,751) {4};
\global\advance\lblc by 1 \node[inner sep=0pt,font=\fontsize{8}{8}\selectfont] (t\the\lblc) at (767,782.5) {3};
\global\advance\lblc by 1 \node[inner sep=0pt,font=\fontsize{8}{8}\selectfont] (t\the\lblc) at (865.3,751.5) {1};
\global\advance\lblc by 1 \node[inner sep=0pt,font=\fontsize{8}{8}\selectfont] (t\the\lblc) at (859.5,786) {2};
\lb{794.5}{719.6}{PC2}\lb{791.2}{736}{TLP781}
\warn{839.5}{717.2}{738}
\lb{707}{714}{Z61}\lb{707}{792}{Z19}\lb{709}{882}{AGND1}
\end{tikzpicture}
\end{document}
